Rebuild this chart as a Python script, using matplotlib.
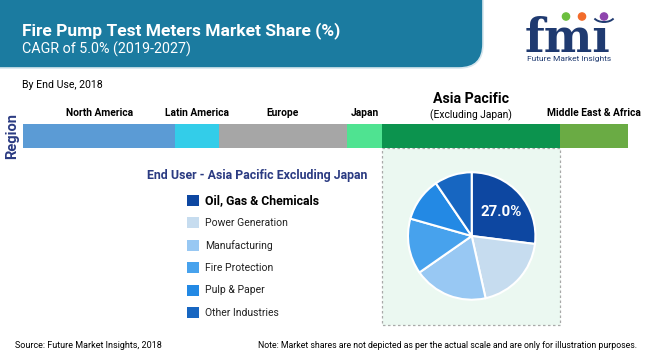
import numpy as np
import matplotlib
matplotlib.use("Agg")
import matplotlib.pyplot as plt
from matplotlib.patches import FancyBboxPatch, Rectangle, Circle, Arc
from matplotlib.transforms import blended_transform_factory

plt.rcParams['font.family'] = ['Roboto', 'DejaVu Sans']

# region shares (%), left to right along the bar
regions = ["North America", "Latin America", "Europe", "Japan",
           "Asia Pacific", "Middle East & Africa"]
region_share = [25.2, 7.2, 21.1, 5.9, 29.4, 11.2]
region_colors = ["#5b9bd5", "#33cde9", "#a6a6a6", "#4fe391", "#0c934e", "#6aab44"]

# end user split for Asia Pacific excluding Japan (%)
end_users = ["Oil, Gas & Chemicals", "Power Generation", "Manufacturing",
             "Fire Protection", "Pulp & Paper", "Other Industries"]
end_share = [27.0, 19.5, 18.8, 14.1, 11.1, 9.5]
end_colors = ["#0d47a1", "#c6dcef", "#98c8f3", "#47a2ed", "#2389e4", "#1766c1"]

navy = "#2b3b82"
teal = "#1b7ba0"

fig = plt.figure(figsize=(6.5, 3.6), dpi=100)
ax = fig.add_axes([0, 0, 1, 1])
ax.set_xlim(0, 650)
ax.set_ylim(360, 0)
ax.axis("off")

# header band
ax.add_patch(FancyBboxPatch((-40, -40), 523, 108, boxstyle="round,pad=0,rounding_size=24",
                            fc=teal, ec="#d6e6ee", lw=1.2))
ax.text(22, 31, "Fire Pump Test Meters Market Share (%)", color="white",
        fontsize=12.5, fontweight="bold", va="center")
ax.text(22, 49, "CAGR of 5.0% (2019-2027)", color="white", fontsize=10.3, va="center")

# logo
ax.text(525, 52, "fm\u0131", family="DejaVu Serif", fontweight="bold", fontsize=33,
        color="#1f3a70", va="baseline")
for cx, col in [(566, "#6cbf3f"), (582, "#f26b2a"), (604, "#8e44ad")]:
    ax.add_patch(Circle((cx, 16.5), 3.6, color=col))
ax.add_patch(Arc((604, 15), 22, 14, theta1=20, theta2=160, color="#1f3a70", lw=1.4))
ax.text(569, 59.5, "Future Market Insights", fontsize=6, color="#1f3a70", ha="center", va="center")

ax.text(22, 85, "By End Use, 2018", fontsize=7.6, va="center")
ax.text(12, 136, "Region", rotation=90, fontsize=10.5, fontweight="bold", color=navy,
        ha="center", va="center")

# stacked region bar
axb = fig.add_axes([23 / 650, 1 - 148 / 360, 605 / 650, 24 / 360])
left = np.concatenate([[0], np.cumsum(region_share)[:-1]])
axb.barh(0, region_share, left=left, height=1, color=region_colors, edgecolor="none")
axb.set_xlim(0, sum(region_share))
axb.set_ylim(-0.5, 0.5)
axb.axis("off")
tr = blended_transform_factory(axb.transData, ax.transData)
centers = left + np.array(region_share) / 2
for name, c in zip(regions, centers):
    if name == "Asia Pacific":
        ax.text(c, 99, name, transform=tr, fontsize=10.2, fontweight="bold", ha="center", va="center")
        ax.text(c, 115, "(Excluding Japan)", transform=tr, fontsize=7.4, ha="center", va="center")
    else:
        ax.text(c, 113, name, transform=tr, fontsize=7.4, fontweight="bold", ha="center", va="center")
ia = regions.index("Asia Pacific")
ax.text(centers[ia], 136, "%.1f%%" % region_share[ia], transform=tr, color="white",
        fontsize=12, fontweight="bold", ha="center", va="center")

# highlight box under Asia Pacific
ax.add_patch(Rectangle((left[ia], 148), region_share[ia], 177, transform=tr,
                       fc="#ebf8f1", ec="#a9a9a9", lw=0.9, ls=(0, (2, 2))))

# legend
ax.text(147, 175, "End User - Asia Pacific Excluding Japan", fontsize=8.9,
        fontweight="bold", color=navy, va="center")
for i, (name, col) in enumerate(zip(end_users, end_colors)):
    y = 200.5 + i * 22.4
    ax.add_patch(Rectangle((187, y - 5.5), 12, 11, fc=col, ec="none"))
    if i == 0:
        ax.text(205, y, name, fontsize=8.8, fontweight="bold", va="center")
    else:
        ax.text(205, y, name, fontsize=7.5, va="center", color="#222222")

# pie
axp = fig.add_axes([(471.7 - 65) / 650, 1 - (236 + 65) / 360, 130 / 650, 130 / 360])
axp.pie(end_share, colors=end_colors, startangle=90, counterclock=False,
        wedgeprops=dict(edgecolor="white", linewidth=1.5))
axp.set_xlim(-1.02, 1.02)
axp.set_ylim(-1.02, 1.02)
mid = np.deg2rad(90 - end_share[0] / 2 * 3.6)
axp.text(0.62 * np.cos(mid), 0.58 * np.sin(mid), "%.1f%%" % end_share[0], color="white",
         fontsize=10.8, fontweight="bold", ha="center", va="center")

# footer
ax.text(15, 345, "Source: Future Market Insights, 2018", fontsize=6.5, va="center")
ax.text(637, 345, "Note: Market shares are not depicted as per the actual scale and are only for illustration purposes.",
        fontsize=6.35, va="center", ha="right")

fig.savefig("out.png", dpi=100)
